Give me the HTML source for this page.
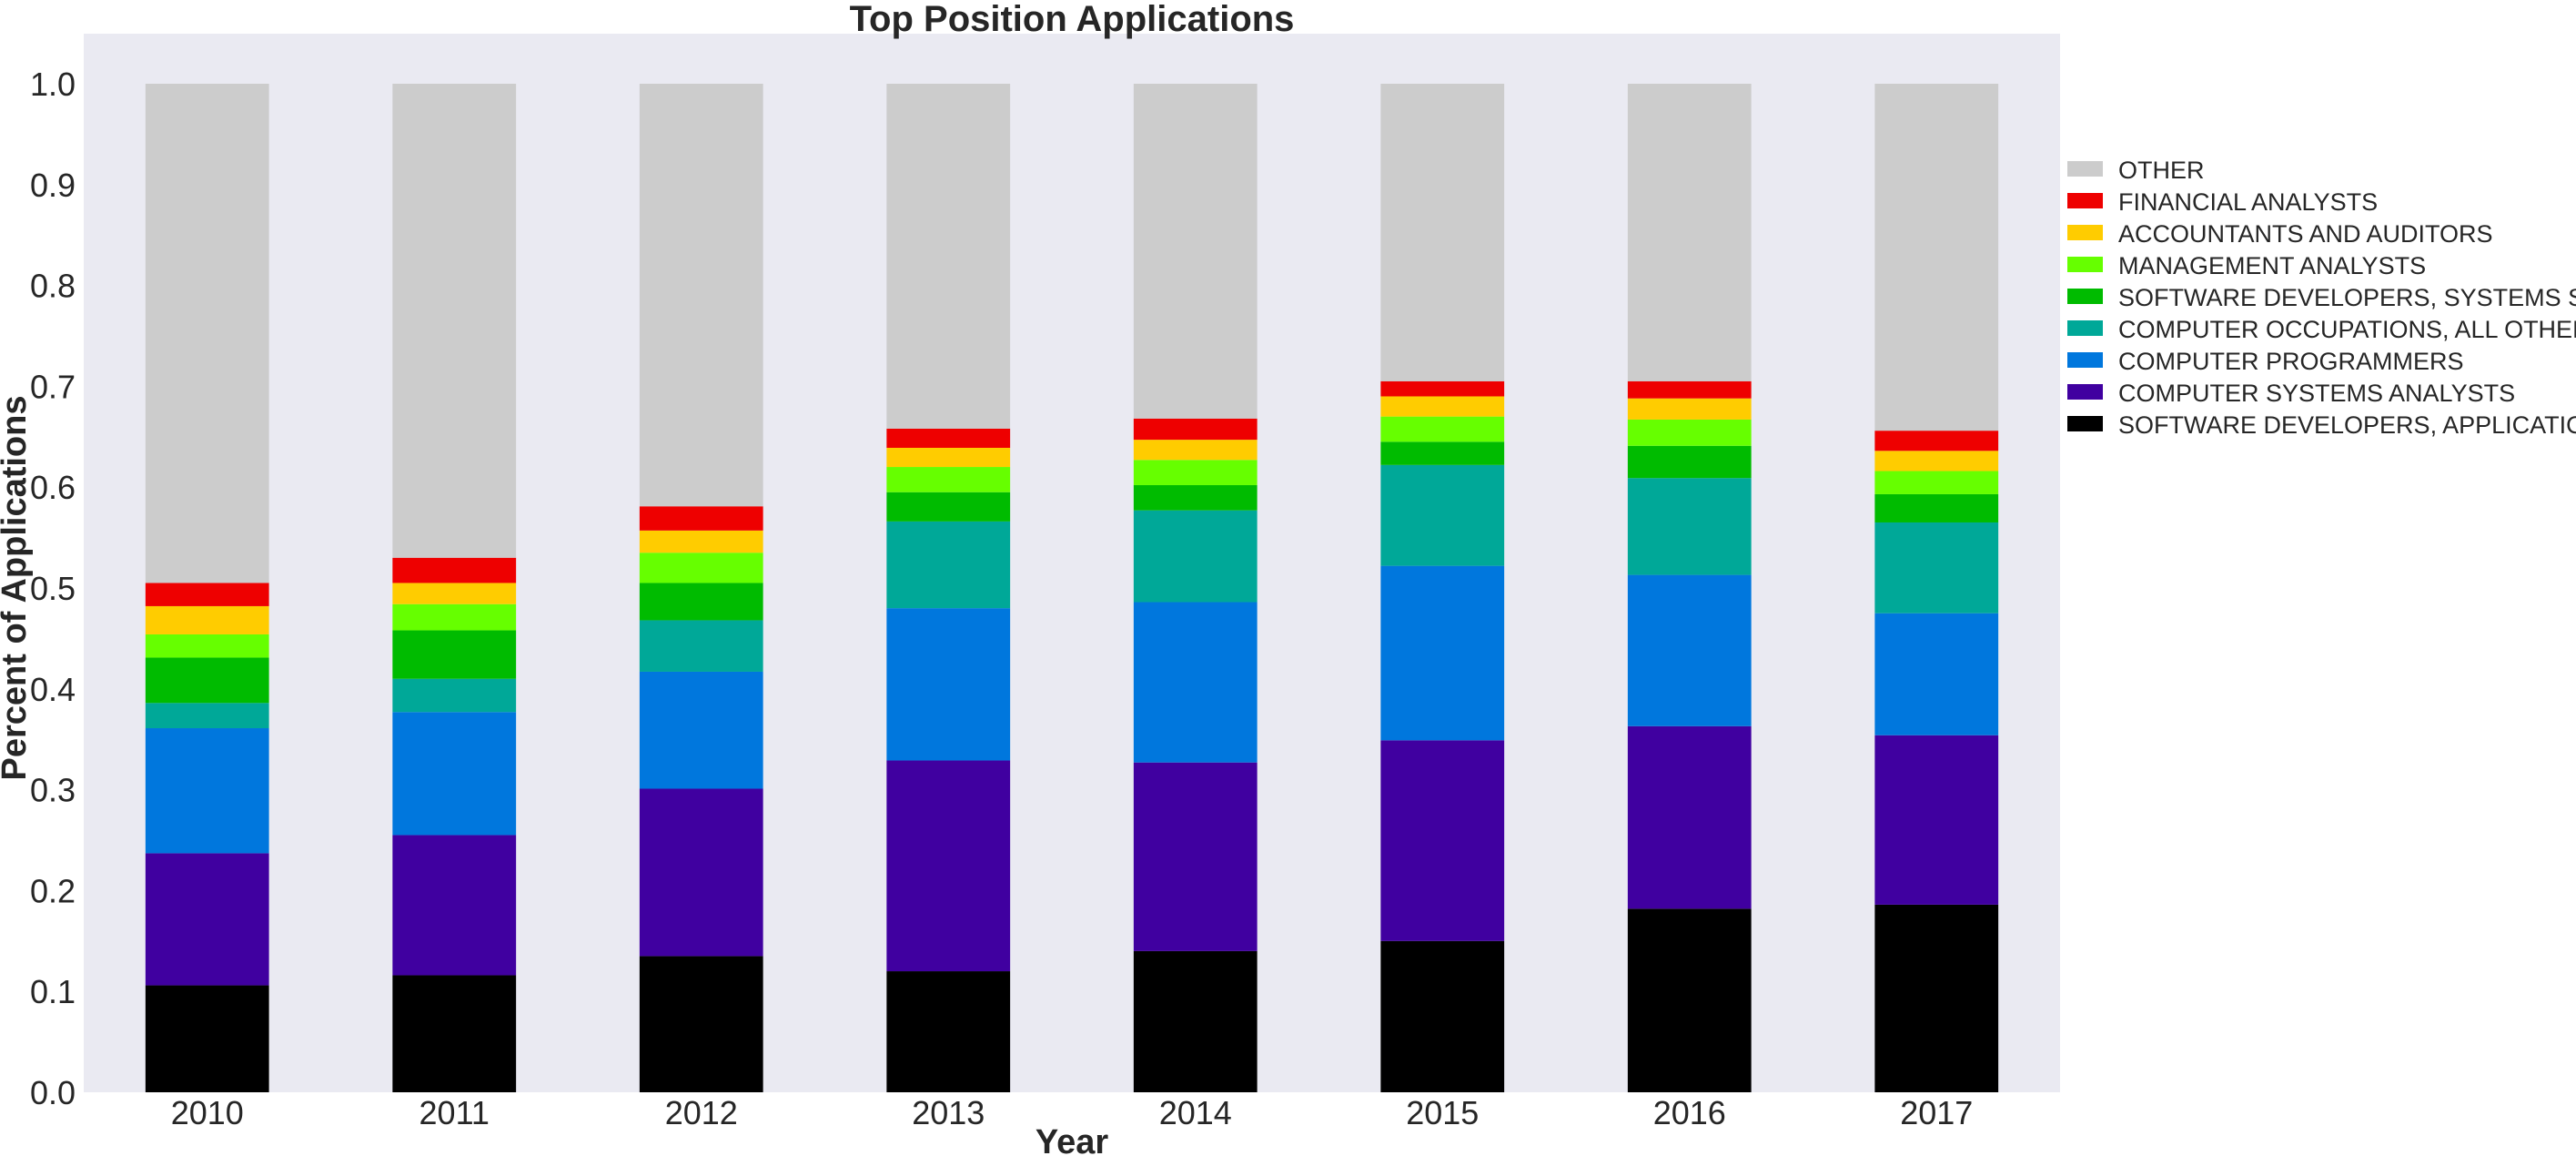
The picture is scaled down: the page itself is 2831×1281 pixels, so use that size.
<!DOCTYPE html>
<html><head><meta charset="utf-8"><style>
body{margin:0;background:#fff;}
svg text{font-family:"Liberation Sans",sans-serif;fill:#262626;}
</style></head><body>
<svg id="chart" width="2831" height="1276" viewBox="0 0 2831 1276" xmlns="http://www.w3.org/2000/svg">
<rect x="92" y="37" width="2172" height="1163" fill="#eaeaf2"/>
<g id="bars"></g>
<g id="yticks"></g>
<g id="xticks"></g>
<text x="1178" y="34" font-size="40" font-weight="bold" text-anchor="middle">Top Position Applications</text>
<text x="1178" y="1267" font-size="38" font-weight="bold" text-anchor="middle">Year</text>
<text transform="translate(28,646) rotate(-90)" font-size="38" font-weight="bold" text-anchor="middle">Percent of Applications</text>
<g id="legend"></g>
</svg>
<script>
const years = ["2010","2011","2012","2013","2014","2015","2016","2017"];
const seriesNames = ["SOFTWARE DEVELOPERS, APPLICATIONS","COMPUTER SYSTEMS ANALYSTS","COMPUTER PROGRAMMERS","COMPUTER OCCUPATIONS, ALL OTHER","SOFTWARE DEVELOPERS, SYSTEMS SOFTWARE","MANAGEMENT ANALYSTS","ACCOUNTANTS AND AUDITORS","FINANCIAL ANALYSTS","OTHER"];
const softwareDevApps = [0.106,0.116,0.135,0.120,0.140,0.150,0.182,0.186];
const systemsAnalysts = [0.131,0.139,0.166,0.209,0.187,0.199,0.181,0.168];
const programmers = [0.124,0.122,0.116,0.151,0.159,0.173,0.150,0.121];
const compAllOther = [0.025,0.033,0.051,0.086,0.091,0.100,0.096,0.090];
const softwareDevSys = [0.045,0.048,0.037,0.029,0.025,0.023,0.032,0.028];
const mgmtAnalysts = [0.023,0.026,0.030,0.025,0.025,0.025,0.026,0.023];
const accountants = [0.028,0.021,0.022,0.019,0.020,0.020,0.021,0.020];
const financialAnalysts = [0.023,0.025,0.024,0.019,0.021,0.015,0.017,0.020];
const yTickLabels = ["0.0","0.1","0.2","0.3","0.4","0.5","0.6","0.7","0.8","0.9","1.0"];
const colors = ["#000000","#4000a0","#0077dd","#00a898","#00bb00","#66ff00","#ffcc00","#ee0000","#cccccc"];

const NS="http://www.w3.org/2000/svg";
const plotL=92, plotR=2264, y0=1200, yScale=1108;
const step=(plotR-plotL)/years.length;
function xPos(i){return plotL+step*(i+0.5);}
function yPos(v){return y0-v*yScale;}
const series=[softwareDevApps,systemsAnalysts,programmers,compAllOther,softwareDevSys,mgmtAnalysts,accountants,financialAnalysts];
const barW=step*0.5;
const gb=document.getElementById('bars');
years.forEach((yr,i)=>{
  let cum=0;
  for(let s=0;s<=series.length;s++){
    const v = s<series.length ? series[s][i] : Math.max(0,1-cum);
    const r=document.createElementNS(NS,'rect');
    
    
    r.setAttribute('x',xPos(i)-barW/2);
    r.setAttribute('y',yPos(cum+v));
    r.setAttribute('width',barW);
    r.setAttribute('height',v*yScale);
    r.setAttribute('fill',colors[s]);
    gb.appendChild(r);
    cum+=v;
  }
});
const gy=document.getElementById('yticks');
yTickLabels.forEach((l,i)=>{
  const t=document.createElementNS(NS,'text');
  
  
  t.setAttribute('x',83);t.setAttribute('y',yPos(parseFloat(l))+13);
  t.setAttribute('font-size','36');t.setAttribute('text-anchor','end');
  t.textContent=l;gy.appendChild(t);
});
const gx=document.getElementById('xticks');
years.forEach((yr,i)=>{
  const t=document.createElementNS(NS,'text');
  
  
  t.setAttribute('x',xPos(i));t.setAttribute('y',1235);
  t.setAttribute('font-size','36');t.setAttribute('text-anchor','middle');
  t.textContent=yr;gx.appendChild(t);
});
const gl=document.getElementById('legend');
for(let k=0;k<seriesNames.length;k++){
  const s=seriesNames.length-1-k;
  const cy=186+k*35;
  const r=document.createElementNS(NS,'rect');
  
  
  r.setAttribute('x',2272);r.setAttribute('y',cy-9);r.setAttribute('width',39);r.setAttribute('height',17);
  r.setAttribute('fill',colors[s]);gl.appendChild(r);
  const t=document.createElementNS(NS,'text');
  
  
  t.setAttribute('x',2328);t.setAttribute('y',cy+10);t.setAttribute('font-size','27');
  t.textContent=seriesNames[s];gl.appendChild(t);
}
</script>
</body></html>
